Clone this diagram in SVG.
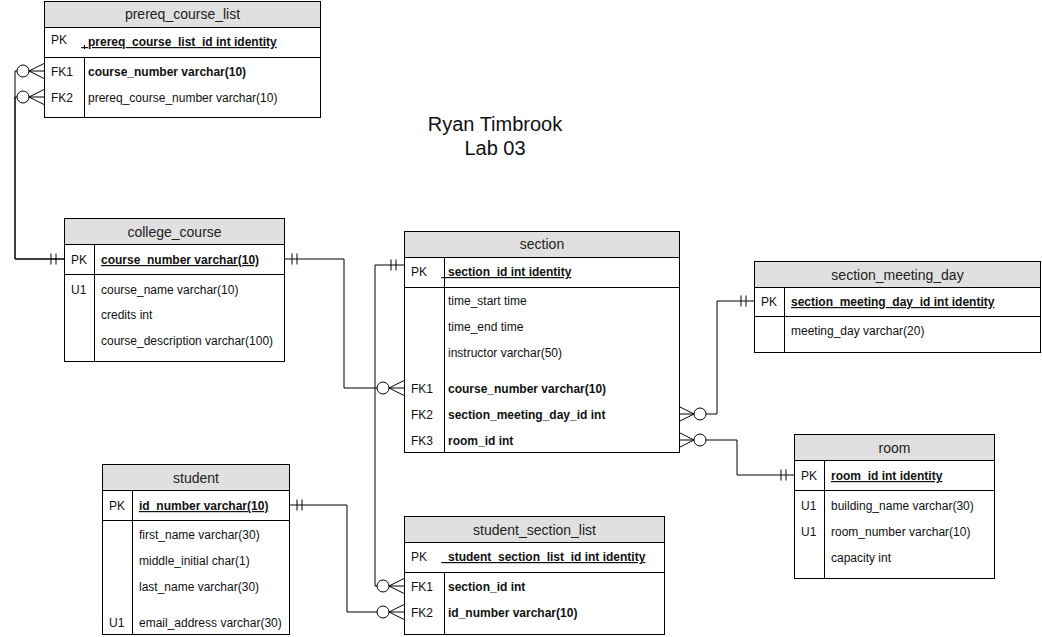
<svg xmlns="http://www.w3.org/2000/svg" xmlns:xlink="http://www.w3.org/1999/xlink" width="1042" height="637" viewBox="0 0 1042 637">
<style>
text{font-family:"Liberation Sans",Arial,Helvetica,sans-serif;fill:#111}
.hd{fill:#e0e0e0;stroke:#000;stroke-width:1}
.bx{fill:#fff;stroke:#000;stroke-width:1}
.ln{stroke:#000;stroke-width:1;fill:none}
.ht{font-size:14px;text-anchor:middle;fill:#222}
.r{font-size:12px}
.b{font-weight:bold}
.u{font-weight:bold;text-decoration:underline}
.title{font-size:20px;text-anchor:middle;fill:#111}
.cn{stroke:#000;stroke-width:1;fill:none}
</style>
<defs>
<g id="zm">
<path class="cn" d="M-15,0 L0,-7.5 M-15,0 L0,0 M-15,0 L0,7.5"/>
<circle cx="-21" cy="0" r="6" fill="#fff" stroke="#000" stroke-width="1"/>
</g>
<g id="mo">
<path class="cn" d="M-8,-5.5 V5.5 M-13,-5.5 V5.5"/>
</g>
</defs>

<rect width="1042" height="637" fill="#fff"/>

<g id="title">
<text class="title" x="495" y="131">Ryan Timbrook</text>
<text class="title" x="495" y="155">Lab 03</text>
</g>

<g id="connectors">
<path class="cn" d="M64,259 H15 V71 H17"/>
<path class="cn" d="M64,259 H15 V97 H17"/>
<use xlink:href="#mo" transform="translate(64,259)"/>
<use xlink:href="#zm" transform="translate(44,71)"/>
<use xlink:href="#zm" transform="translate(44,97)"/>

<path class="cn" d="M284,259 H344 V388 H377"/>
<use xlink:href="#mo" transform="translate(284,259) scale(-1,1)"/>
<use xlink:href="#zm" transform="translate(404,388)"/>

<path class="cn" d="M404,265 H375 V586 H377"/>
<use xlink:href="#mo" transform="translate(404,265)"/>
<use xlink:href="#zm" transform="translate(404,586)"/>

<path class="cn" d="M289,505 H347 V612 H377"/>
<use xlink:href="#mo" transform="translate(289,505) scale(-1,1)"/>
<use xlink:href="#zm" transform="translate(404,612)"/>

<path class="cn" d="M706,414 H717 V301 H754"/>
<use xlink:href="#zm" transform="translate(679,414) scale(-1,1)"/>
<use xlink:href="#mo" transform="translate(754,301)"/>

<path class="cn" d="M706,440 H737 V475 H794"/>
<use xlink:href="#zm" transform="translate(679,440) scale(-1,1)"/>
<use xlink:href="#mo" transform="translate(794,475)"/>
</g>

<g id="prereq_course_list">
<rect class="bx" x="44.5" y="1.5" width="276" height="116"/>
<rect class="hd" x="44.5" y="1.5" width="276" height="26"/>
<line class="ln" x1="44.5" y1="57.5" x2="320.5" y2="57.5"/>
<line class="ln" x1="84.5" y1="57.5" x2="84.5" y2="117.5"/>
<line class="ln" x1="84.5" y1="45" x2="84.5" y2="49"/>
<text class="ht" x="182.5" y="19">prereq_course_list</text>
<text class="r" x="51" y="44">PK</text>
<text class="r u" x="81.3" y="46">&#160;&#160;prereq_course_list_id int identity</text>
<text class="r" x="51" y="76">FK1</text>
<text class="r b" x="88" y="76">course_number varchar(10)</text>
<text class="r" x="51" y="102">FK2</text>
<text class="r" x="88" y="102">prereq_course_number varchar(10)</text>
</g>

<g id="college_course">
<rect class="bx" x="64.5" y="218.5" width="220" height="143"/>
<rect class="hd" x="64.5" y="218.5" width="220" height="26"/>
<line class="ln" x1="64.5" y1="274.5" x2="284.5" y2="274.5"/>
<line class="ln" x1="94.5" y1="244.5" x2="94.5" y2="361.5"/>
<text class="ht" x="174.5" y="237">college_course</text>
<text class="r" x="71" y="264">PK</text>
<text class="r u" x="101" y="264">course_number varchar(10)</text>
<text class="r" x="71" y="294">U1</text>
<text class="r" x="101" y="294">course_name varchar(10)</text>
<text class="r" x="101" y="319">credits int</text>
<text class="r" x="101" y="345">course_description varchar(100)</text>
</g>

<g id="section">
<rect class="bx" x="404.5" y="231.5" width="275" height="221"/>
<rect class="hd" x="404.5" y="231.5" width="275" height="26"/>
<line class="ln" x1="404.5" y1="287.5" x2="679.5" y2="287.5"/>
<line class="ln" x1="444.5" y1="257.5" x2="444.5" y2="452.5"/>
<text class="ht" x="542" y="249">section</text>
<text class="r" x="411" y="276">PK</text>
<text class="r u" x="441.3" y="276">&#160;&#160;section_id int identity</text>
<text class="r" x="448" y="305">time_start time</text>
<text class="r" x="448" y="331">time_end time</text>
<text class="r" x="448" y="357">instructor varchar(50)</text>
<text class="r" x="411" y="393">FK1</text>
<text class="r b" x="448" y="393">course_number varchar(10)</text>
<text class="r" x="411" y="419">FK2</text>
<text class="r b" x="448" y="419">section_meeting_day_id int</text>
<text class="r" x="411" y="445">FK3</text>
<text class="r b" x="448" y="445">room_id int</text>
</g>

<g id="section_meeting_day">
<rect class="bx" x="754.5" y="261.5" width="286" height="91"/>
<rect class="hd" x="754.5" y="261.5" width="286" height="26"/>
<line class="ln" x1="754.5" y1="316.5" x2="1040.5" y2="316.5"/>
<line class="ln" x1="784.5" y1="287.5" x2="784.5" y2="352.5"/>
<text class="ht" x="897.5" y="280">section_meeting_day</text>
<text class="r" x="761" y="306">PK</text>
<text class="r u" x="791" y="306">section_meeting_day_id int identity</text>
<text class="r" x="791" y="335">meeting_day varchar(20)</text>
</g>

<g id="room">
<rect class="bx" x="794.5" y="434.5" width="200" height="144"/>
<rect class="hd" x="794.5" y="434.5" width="200" height="26"/>
<line class="ln" x1="794.5" y1="490.5" x2="994.5" y2="490.5"/>
<line class="ln" x1="824.5" y1="460.5" x2="824.5" y2="578.5"/>
<text class="ht" x="894.5" y="453">room</text>
<text class="r" x="801" y="480">PK</text>
<text class="r u" x="831" y="480">room_id int identity</text>
<text class="r" x="801" y="510">U1</text>
<text class="r" x="831" y="510">building_name varchar(30)</text>
<text class="r" x="801" y="536">U1</text>
<text class="r" x="831" y="536">room_number varchar(10)</text>
<text class="r" x="831" y="562">capacity int</text>
</g>

<g id="student">
<rect class="bx" x="102.5" y="464.5" width="187" height="170"/>
<rect class="hd" x="102.5" y="464.5" width="187" height="26"/>
<line class="ln" x1="102.5" y1="520.5" x2="289.5" y2="520.5"/>
<line class="ln" x1="132.5" y1="490.5" x2="132.5" y2="634.5"/>
<text class="ht" x="196" y="483">student</text>
<text class="r" x="109" y="510">PK</text>
<text class="r u" x="139" y="510">id_number varchar(10)</text>
<text class="r" x="139" y="539">first_name varchar(30)</text>
<text class="r" x="139" y="565">middle_initial char(1)</text>
<text class="r" x="139" y="591">last_name varchar(30)</text>
<text class="r" x="109" y="627">U1</text>
<text class="r" x="139" y="627">email_address varchar(30)</text>
</g>

<g id="student_section_list">
<rect class="bx" x="404.5" y="516.5" width="260" height="118"/>
<rect class="hd" x="404.5" y="516.5" width="260" height="26"/>
<line class="ln" x1="404.5" y1="572.5" x2="664.5" y2="572.5"/>
<line class="ln" x1="444.5" y1="572.5" x2="444.5" y2="634.5"/>
<text class="ht" x="534.5" y="535">student_section_list</text>
<text class="r" x="411" y="561">PK</text>
<text class="r u" x="441.3" y="561">&#160;&#160;student_section_list_id int identity</text>
<text class="r" x="411" y="591">FK1</text>
<text class="r b" x="448" y="591">section_id int</text>
<text class="r" x="411" y="617">FK2</text>
<text class="r b" x="448" y="617">id_number varchar(10)</text>
</g>
</svg>
